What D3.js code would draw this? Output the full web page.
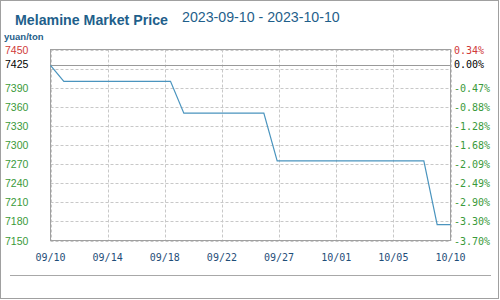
<!DOCTYPE html>
<html><head><meta charset="utf-8">
<script src="https://cdn.jsdelivr.net/npm/d3@7"></script>
<style>body{margin:0;background:#fff}svg{display:block}</style>
</head><body>
<svg id="c" width="500" height="300"></svg>
<script>
const titleText = "Melamine Market Price";
const rangeText = "2023-09-10 - 2023-10-10";
const unitText = "yuan/ton";
const startDate = "2023-09-10";
const endDate = "2023-10-10";
// daily prices 09/10 .. 10/10
const prices = [7425, 7400, 7400, 7400, 7400, 7400, 7400, 7400, 7400, 7400,
                7350, 7350, 7350, 7350, 7350, 7350, 7350, 7275, 7275, 7275,
                7275, 7275, 7275, 7275, 7275, 7275, 7275, 7275, 7275, 7175, 7175];
const basePrice = 7425;
const yTicks = [7450, 7420, 7390, 7360, 7330, 7300, 7270, 7240, 7210, 7180, 7150];
const yLabels = ["7450", "", "7390", "7360", "7330", "7300", "7270", "7240", "7210", "7180", "7150"];
const pctLabels = ["0.34%", "", "-0.47%", "-0.88%", "-1.28%", "-1.68%", "-2.09%", "-2.49%", "-2.90%", "-3.30%", "-3.70%"];
const xTickCount = 7;

const svg = d3.select("#c");
const parse = d3.timeParse("%Y-%m-%d");
const d0 = parse(startDate), d1 = parse(endDate);
const data = prices.map((v, i) => ({date: d3.timeDay.offset(d0, i), v}));

const L = 50.5, R = 450.5, T = 49.5, B = 240.5;
const x = d3.scaleTime().domain([d0, d1]).range([L, R]);
const y = d3.scaleLinear().domain([7150, 7450]).range([B, T]);

// outer frame
svg.append("rect").attr("x", 0.5).attr("y", 0.5).attr("width", 498).attr("height", 298)
  .attr("fill", "none").attr("stroke", "#a0a0a0");
svg.append("line").attr("x1", 10).attr("x2", 491).attr("y1", 275.5).attr("y2", 275.5)
  .attr("stroke", "#a8a8a8");

// title
svg.append("text").attr("x", 15).attr("y", 24.5).text(titleText)
  .attr("font-family", "Liberation Sans, Arial, sans-serif").attr("font-weight", "bold")
  .attr("font-size", 14.2).attr("fill", "#1f5f8b");
svg.append("text").attr("x", 182).attr("y", 21.5).text(rangeText)
  .attr("font-family", "Liberation Sans, Arial, sans-serif")
  .attr("font-size", 14.2).attr("fill", "#1f5f8b");
svg.append("text").attr("x", 4).attr("y", 40).text(unitText)
  .attr("font-family", "Liberation Sans, Arial, sans-serif").attr("font-weight", "bold")
  .attr("font-size", 9.5).attr("fill", "#1f5f8b");

// horizontal grid
const g = svg.append("g");
g.selectAll("line.h").data(yTicks).join("line").attr("class", "h")
  .attr("x1", L).attr("x2", R)
  .attr("y1", d => Math.round(y(d)) + 0.5).attr("y2", d => Math.round(y(d)) + 0.5)
  .attr("stroke", "#c8c8c8").attr("stroke-dasharray", "3,2");
// vertical grid
const xt = d3.range(xTickCount + 1).map(i => new Date(+d0 + (d1 - d0) * i / xTickCount));
g.selectAll("line.v").data(xt).join("line").attr("class", "v")
  .attr("y1", T).attr("y2", B)
  .attr("x1", d => Math.round(x(d)) + 0.5).attr("x2", d => Math.round(x(d)) + 0.5)
  .attr("stroke", "#c8c8c8").attr("stroke-dasharray", "3,2");

// base line
svg.append("line").attr("x1", L).attr("x2", R)
  .attr("y1", Math.round(y(basePrice)) + 0.5).attr("y2", Math.round(y(basePrice)) + 0.5)
  .attr("stroke", "#9a9a9a");

// plot frame
svg.append("rect").attr("x", L).attr("y", T).attr("width", R - L).attr("height", B - T)
  .attr("fill", "none").attr("stroke", "#a0a0a0");

// price line
svg.append("path").datum(data)
  .attr("d", d3.line().x(d => x(d.date)).y(d => y(d.v)))
  .attr("fill", "none").attr("stroke", "#4a94be").attr("stroke-width", 1.2);

// left labels
const lab = svg.append("g").attr("font-family", "Liberation Sans, Arial, sans-serif").attr("font-size", 10.5);
lab.selectAll("text").data(yTicks.map((t, i) => ({t, s: yLabels[i], i}))).join("text")
  .attr("x", 5).attr("y", d => y(d.t) + 4).text(d => d.s)
  .attr("fill", d => d.i === 0 ? "#d03a3a" : "#3a9a3a");
lab.append("text").attr("x", 5).attr("y", y(basePrice) + 3).text(String(basePrice)).attr("fill", "#000");

// right labels
const rl = svg.append("g").attr("font-family", "DejaVu Sans Mono, monospace").attr("font-size", 10);
rl.selectAll("text").data(yTicks.map((t, i) => ({t, s: pctLabels[i], i}))).join("text")
  .attr("x", 454).attr("y", d => y(d.t) + 4).text(d => d.s)
  .attr("fill", d => d.i === 0 ? "#d03a3a" : "#3a9a3a");
rl.append("text").attr("x", 454).attr("y", y(basePrice) + 3).text("0.00%").attr("fill", "#000");

// x labels
const fmt = d3.timeFormat("%m/%d");
svg.append("g").attr("font-family", "DejaVu Sans Mono, monospace").attr("font-size", 10)
  .selectAll("text").data(xt).join("text")
  .attr("x", d => x(d)).attr("y", 261).attr("text-anchor", "middle")
  .text(d => fmt(d3.timeDay.floor(d))).attr("fill", "#1f4e79");
</script>
</body></html>
